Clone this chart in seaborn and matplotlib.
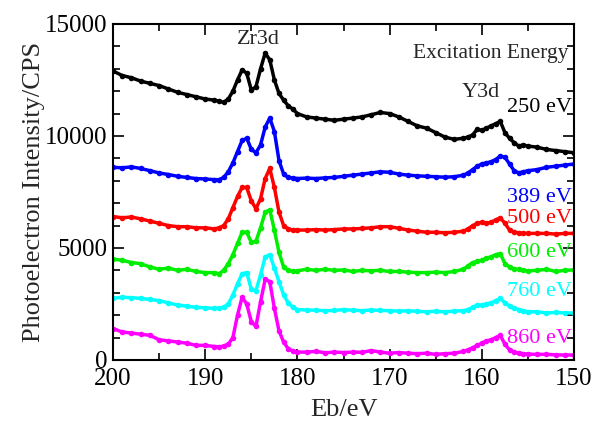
import numpy as np
import pandas as pd
import matplotlib
matplotlib.use("Agg")
import matplotlib.pyplot as plt
from matplotlib.ticker import MultipleLocator
import seaborn as sns

sns.set_theme(style="ticks")
plt.rcParams['font.family'] = ['Liberation Serif', 'DejaVu Serif']

# Binding energy grid (eV)
eb = [200, 199, 198, 197, 196, 195, 194, 193, 192, 191, 190, 189,
      188.5, 188, 187.5, 187, 186.5, 186, 185.5, 185, 184.5, 184, 183.5, 183,
      182.5, 182, 181.5, 181, 180.5, 180,
      179, 178, 177, 176, 175, 174, 173, 172, 171, 170, 169, 168, 167, 166,
      165, 164, 163, 162,
      161.5, 161, 160.5, 160, 159.5, 159, 158.5, 158, 157.5, 157, 156.5, 156,
      155.5, 155,
      154, 153, 152, 151, 150]

cps_250 = [12900, 12700, 12600, 12450, 12350, 12250, 12100, 11950, 11850, 11750, 11650, 11600,
           11550, 11500, 11650, 12000, 12500, 12950, 12800, 12050, 12200, 13000, 13700, 13400,
           12500, 11900, 11600, 11350, 11200, 11000,
           10850, 10800, 10750, 10700, 10750, 10800, 10850, 10950, 11050, 11000, 10850, 10650,
           10450, 10350, 10150, 9950, 9850, 9900,
           9950, 10050, 10300, 10250, 10350, 10450, 10550, 10650, 10150, 9900, 9700, 9550,
           9600, 9550,
           9500, 9400, 9350, 9300, 9250]

cps_389 = [8600, 8580, 8620, 8550, 8450, 8350, 8280, 8200, 8150, 8100, 8080, 8050,
           8050, 8150, 8400, 8800, 9300, 9800, 9900, 9400, 9250, 9600, 10400, 10800,
           10200, 8900, 8300, 8150, 8120, 8100,
           8120, 8100, 8130, 8150, 8200, 8250, 8300, 8350, 8400, 8380, 8300, 8250,
           8220, 8200, 8180, 8160, 8180, 8250,
           8350, 8500, 8650, 8750, 8800, 8850, 8950, 9100, 9050, 8750, 8450, 8350,
           8400, 8450,
           8500, 8600, 8650, 8700, 8750]

cps_500 = [6400, 6350, 6380, 6300, 6200, 6100, 6000, 5950, 5950, 5900, 5900, 5850,
           5900, 6000, 6300, 6800, 7300, 7700, 7700, 7100, 6750, 7200, 8100, 8550,
           7700, 6600, 6000, 5850, 5800, 5800,
           5800, 5820, 5800, 5820, 5850, 5850, 5870, 5900, 5950, 5950, 5880, 5800,
           5750, 5700, 5700, 5680, 5700, 5750,
           5850, 6000, 6100, 6150, 6100, 6150, 6250, 6350, 6100, 5800, 5700, 5680,
           5650, 5650,
           5650, 5650, 5620, 5650, 5650]

cps_600 = [4500, 4450, 4350, 4300, 4150, 4050, 4100, 4000, 4050, 3950, 3900, 3900,
           3850, 4000, 4300, 4700, 5200, 5700, 5700, 5250, 5300, 5900, 6600, 6700,
           5800, 4800, 4150, 4000, 3950, 3980,
           4050, 4000, 4050, 4000, 4020, 3950, 4000, 3980, 4000, 3950, 3950, 3920,
           3900, 3900, 3920, 3900, 3950, 4050,
           4200, 4350, 4400, 4450, 4550, 4600, 4700, 4750, 4300, 4150, 4050, 4050,
           4000, 3980,
           4000, 4050, 3950, 4000, 4020]

cps_760 = [2750, 2800, 2780, 2750, 2700, 2650, 2550, 2450, 2400, 2350, 2330, 2300,
           2320, 2350, 2500, 2900, 3400, 3850, 3900, 3150, 3100, 3800, 4600, 4700,
           4100, 3500, 2900, 2550, 2350, 2250,
           2230, 2220, 2200, 2210, 2250, 2220, 2200, 2230, 2210, 2200, 2180, 2200,
           2170, 2150, 2170, 2150, 2180, 2200,
           2250, 2350, 2450, 2450, 2500, 2550, 2650, 2750, 2550, 2400, 2300, 2250,
           2200, 2150,
           2150, 2100, 2120, 2100, 2100]

cps_860 = [1400, 1250, 1200, 1150, 1100, 900, 850, 800, 750, 650, 650, 600,
           580, 620, 700, 1000, 2000, 2800, 2500, 1700, 1500, 2600, 3600, 3500,
           2300, 1300, 800, 500, 400, 350,
           350, 380, 320, 350, 330, 350, 340, 420, 350, 300, 330, 300,
           280, 300, 250, 280, 300, 380,
           450, 550, 650, 750, 850, 900, 1000, 1100, 700, 450, 350, 300,
           280, 260,
           250, 250, 230, 220, 220]

energies = ['250 eV', '389 eV', '500 eV', '600 eV', '760 eV', '860 eV']
colors = ['#000000', '#0000ff', '#ff0000', '#00ee00', '#00ffff', '#ff00ff']
label_y = [11250, 7250, 6300, 4820, 3040, 980]

series = [cps_250, cps_389, cps_500, cps_600, cps_760, cps_860]
df = pd.concat([pd.DataFrame({'Eb': eb, 'cps': s, 'energy': e})
                for s, e in zip(series, energies)], ignore_index=True)

fig = plt.figure(figsize=(5.98, 4.21), dpi=100)
ax = fig.add_axes([0.189, 0.145, 0.771, 0.798])

sns.lineplot(data=df, x='Eb', y='cps', hue='energy', hue_order=energies,
             palette=colors, marker='o', markersize=4, markeredgewidth=0,
             linewidth=2.5, legend=False, ax=ax)

ax.set_xlim(200, 150)
ax.set_ylim(0, 15000)
ax.xaxis.set_major_locator(MultipleLocator(10))
ax.xaxis.set_minor_locator(MultipleLocator(5))
ax.yaxis.set_major_locator(MultipleLocator(5000))
ax.yaxis.set_minor_locator(MultipleLocator(1000))
ax.tick_params(which='both', direction='in', top=True, right=True,
               width=1.2, labelsize=18, colors='black')
ax.tick_params(which='major', length=8, pad=4)
ax.tick_params(axis='x', which='major', pad=6)
ax.tick_params(which='minor', length=5)
for sp in ax.spines.values():
    sp.set_linewidth(1.5)
    sp.set_color('black')

ax.set_xlabel('Eb/eV', fontsize=19, labelpad=6)
ax.set_ylabel('Photoelectron Intensity/CPS', fontsize=19, labelpad=0)

ax.text(184.2, 14330, 'Zr3d', fontsize=16, ha='center', va='center')
ax.text(160.1, 11920, 'Y3d', fontsize=16, ha='center', va='center')
ax.text(150.6, 13700, 'Excitation Energy', fontsize=15.5, ha='right', va='center')
for e, c, yv in zip(energies, colors, label_y):
    ax.text(150.2, yv, e, fontsize=16, color=c, ha='right', va='center')

fig.savefig('out.png', dpi=100)
